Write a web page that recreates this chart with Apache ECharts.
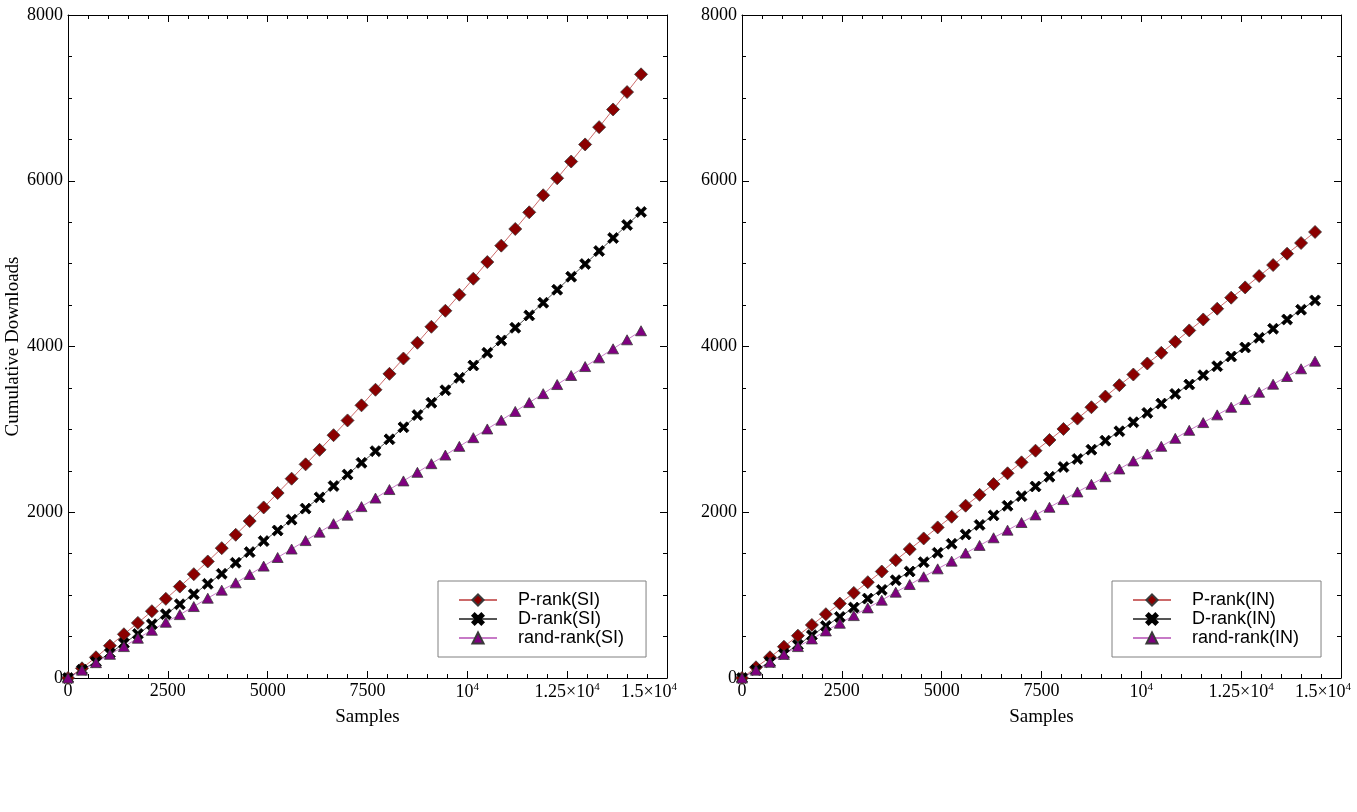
<!DOCTYPE html>
<html><head><meta charset="utf-8">
<script src="https://cdn.jsdelivr.net/npm/echarts@6/dist/echarts.min.js"></script>
<style>html,body{margin:0;padding:0;background:#fff}#c{width:1357px;height:812px}</style>
</head><body><div id="c"></div>
<script>
// ---- data ----
const samples = [0,350,700,1050,1400,1750,2100,2450,2800,3150,3500,3850,4200,4550,4900,5250,5600,5950,6300,6650,7000,7350,7700,8050,8400,8750,9100,9450,9800,10150,10500,10850,11200,11550,11900,12250,12600,12950,13300,13650,14000,14350];

const pRankSI = [0,117,250,390,528,665,806,955,1103,1253,1406,1567,1728,1894,2058,2232,2405,2578,2753,2930,3108,3290,3478,3670,3855,4045,4238,4431,4625,4818,5019,5217,5418,5619,5825,6030,6232,6438,6647,6860,7070,7284];
const dRankSI = [0,100,193,298,419,532,649,770,890,1011,1136,1257,1390,1519,1652,1780,1911,2044,2179,2316,2455,2596,2737,2880,3025,3172,3321,3472,3622,3771,3924,4073,4226,4375,4528,4685,4842,4995,5152,5309,5466,5623];
const randRankSI = [0,95,185,286,379,480,576,673,765,862,963,1060,1148,1249,1350,1454,1556,1658,1760,1862,1965,2068,2171,2274,2378,2482,2586,2690,2795,2900,3005,3111,3217,3323,3431,3541,3650,3758,3863,3972,4081,4190];

const pRankIN = [0,129,250,378,511,640,770,898,1027,1156,1285,1422,1555,1684,1817,1946,2079,2210,2340,2470,2602,2743,2872,3005,3130,3267,3396,3533,3662,3795,3924,4057,4194,4326,4456,4589,4713,4850,4983,5120,5249,5382];
const dRankIN = [0,97,193,290,399,516,628,737,850,958,1063,1180,1285,1398,1511,1619,1732,1847,1962,2078,2194,2311,2428,2546,2643,2755,2864,2977,3086,3199,3311,3428,3541,3653,3762,3879,3988,4105,4214,4326,4444,4556];
const randRankIN = [0,95,190,285,379,471,568,661,753,846,939,1036,1128,1221,1317,1410,1507,1600,1692,1784,1876,1968,2060,2153,2245,2337,2429,2522,2619,2703,2796,2892,2989,3082,3175,3267,3360,3448,3545,3638,3731,3823];

const namesSI = ['P-rank(SI)','D-rank(SI)','rand-rank(SI)'];
const namesIN = ['P-rank(IN)','D-rank(IN)','rand-rank(IN)'];

const xTickValues = [0,2500,5000,7500,10000,12500,15000];
const xTickText = ['0','2500','5000','7500','{n|10}{s|4}','{n|1.25×10}{s|4}','{n|1.5×10}{s|4}{p| }'];
const yTickValues = [0,2000,4000,6000,8000];
const yTickText = ['0','2000','4000','6000','8000'];

const xTitle = 'Samples';
const yTitle = 'Cumulative Downloads';

// ---- styles ----
const SERIF = '"Liberation Serif","DejaVu Serif",serif';
const SANS = '"Liberation Sans",Arial,sans-serif';
const XPATH = 'path://M0,2 L2,0 L5,3 L8,0 L10,2 L7,5 L10,8 L8,10 L5,7 L2,10 L0,8 L3,5 Z';

const styleP = {symbol:'diamond', symbolSize:13, color:'#8b0000', line:'#cc6a6a', border:'#3a3a3a'};
const styleD = {symbol:XPATH, symbolSize:11, color:'#000000', line:'#555555', border:'#000000'};
const styleR = {symbol:'triangle', symbolSize:[11,10], color:'#800080', line:'#c77ac7', border:'#3a3a3a'};

function xLabel(v){ const i = xTickValues.indexOf(v); return i>=0 ? xTickText[i] : ''; }
function yLabel(v){ const i = yTickValues.indexOf(v); return i>=0 ? yTickText[i] : ''; }

const tickBase = {inside:true, length:7, lineStyle:{color:'#000', width:1}};
const minorBase = {show:true, length:4, lineStyle:{color:'#000', width:1}};
const axisLine = {show:true, onZero:false, lineStyle:{color:'#000', width:1}};

function xAxes(gi){
  return [
    {type:'value', gridIndex:gi, position:'bottom', min:0, max:15000, interval:2500,
     axisLine, axisTick:tickBase, minorTick:Object.assign({splitNumber:5}, minorBase), splitLine:{show:false},
     axisLabel:{margin:4, color:'#000', fontFamily:SERIF, fontSize:18, formatter:xLabel,
       rich:{n:{fontFamily:SERIF, fontSize:18, color:'#000'}, s:{fontFamily:SERIF, fontSize:11, color:'#000', verticalAlign:'top', padding:[0,0,10,0]}, p:{width:36}}},
     name:xTitle, nameLocation:'middle', nameGap:30, nameTextStyle:{fontFamily:SERIF, fontSize:19, color:'#000'}},
    {type:'value', gridIndex:gi, position:'top', min:0, max:15000, interval:2500,
     axisLine, axisTick:tickBase, minorTick:Object.assign({splitNumber:5}, minorBase), splitLine:{show:false}, axisLabel:{show:false}}
  ];
}
function yAxes(gi, withName){
  const a = {type:'value', gridIndex:gi, position:'left', min:0, max:8000, interval:2000,
     axisLine, axisTick:tickBase, minorTick:Object.assign({splitNumber:4}, minorBase), splitLine:{show:false},
     axisLabel:{margin:5, color:'#000', fontFamily:SERIF, fontSize:18, formatter:yLabel}};
  if (withName) Object.assign(a, {name:yTitle, nameLocation:'middle', nameGap:45, nameTextStyle:{fontFamily:SERIF, fontSize:19, color:'#000'}});
  return [a,
    {type:'value', gridIndex:gi, position:'right', min:0, max:8000, interval:2000,
     axisLine, axisTick:tickBase, minorTick:Object.assign({splitNumber:4}, minorBase), splitLine:{show:false}, axisLabel:{show:false}}];
}

function mkSeries(name, vals, st, xi, yi){
  return {type:'line', name, xAxisIndex:xi, yAxisIndex:yi,
    data: samples.map((s,i)=>[s, vals[i]]),
    symbol:st.symbol, symbolSize:st.symbolSize, showAllSymbol:true, animation:false,
    lineStyle:{color:st.line, width:1},
    itemStyle:{color:st.color, borderColor:st.border, borderWidth:0.8},
    emphasis:{disabled:true}};
}

function legend(left, names){
  return {show:true, left, top:581, orient:'vertical', data:names,
    backgroundColor:'#fff', borderColor:'#808080', borderWidth:1,
    padding:[10,22,10,20], itemGap:1, itemWidth:38, itemHeight:14,
    textStyle:{fontFamily:SANS, fontSize:18, color:'#000', lineHeight:18, padding:[0,0,0,16]}};
}

const option = {
  backgroundColor:'#fff',
  animation:false,
  grid:[
    {left:68, top:15, width:599, height:663, containLabel:false, outerBoundsMode:'none'},
    {left:742, top:15, width:599, height:663, containLabel:false, outerBoundsMode:'none'}
  ],
  xAxis:[...xAxes(0), ...xAxes(1)],
  yAxis:[...yAxes(0,true), ...yAxes(1,false)],
  legend:[legend(438, namesSI), legend(1112, namesIN)],
  series:[
    mkSeries(namesSI[0], pRankSI, styleP, 0, 0),
    mkSeries(namesSI[1], dRankSI, styleD, 0, 0),
    mkSeries(namesSI[2], randRankSI, styleR, 0, 0),
    mkSeries(namesIN[0], pRankIN, styleP, 2, 2),
    mkSeries(namesIN[1], dRankIN, styleD, 2, 2),
    mkSeries(namesIN[2], randRankIN, styleR, 2, 2)
  ]
};

const chart = echarts.init(document.getElementById('c'), null, {renderer:'canvas'});
chart.setOption(option);
</script>
</body></html>
